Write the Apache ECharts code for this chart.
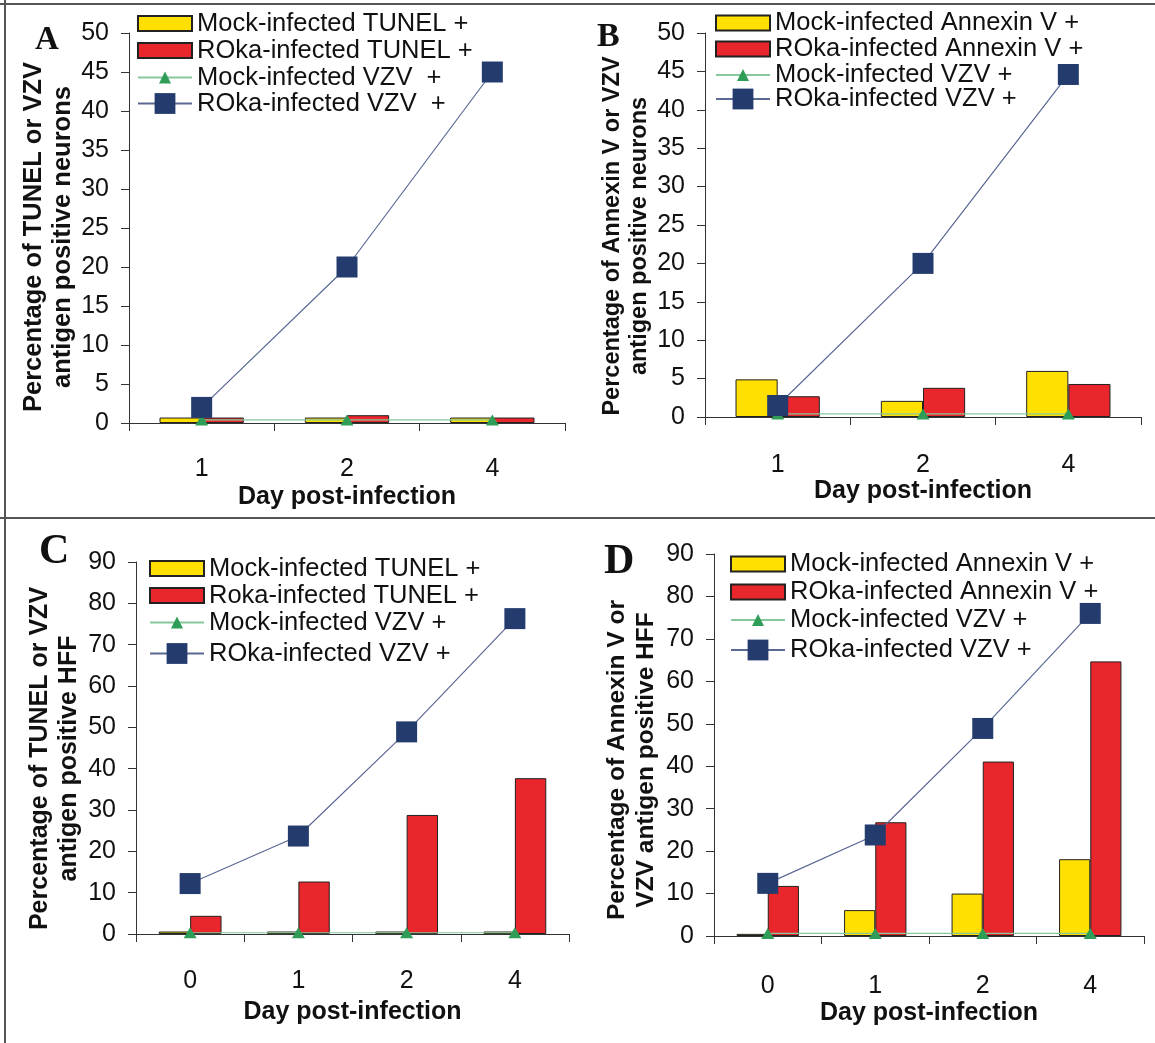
<!DOCTYPE html>
<html>
<head>
<meta charset="utf-8">
<script src="https://cdn.jsdelivr.net/npm/echarts@6/dist/echarts.min.js"></script>
<style>
  html, body { margin: 0; padding: 0; background: #fff; }
  #chart { width: 1155px; height: 1043px; }
</style>
</head>
<body>
<div id="chart"></div>
<script>
// categories
var daysTop = ['1', '2', '4'];
var daysBottom = ['0', '1', '2', '4'];

// panel A - neurons, TUNEL
var mockTunelA = [0.7, 0.7, 0.7];
var rokaTunelA = [0.7, 1.0, 0.7];
var mockVzvA = [0.4, 0.4, 0.4];
var rokaVzvA = [2, 20, 45];

// panel B - neurons, Annexin V
var mockAnnexinB = [4.9, 2.1, 6.0];
var rokaAnnexinB = [2.7, 3.8, 4.3];
var mockVzvB = [0.4, 0.4, 0.4];
var rokaVzvB = [1.5, 20, 44.6];

// panel C - HFF, TUNEL
var mockTunelC = [0.6, 0.6, 0.6, 0.6];
var rokaTunelC = [4.4, 12.7, 28.8, 37.7];
var mockVzvC = [0.3, 0.3, 0.3, 0.3];
var rokaVzvC = [12.2, 23.7, 48.9, 76.3];

// panel D - HFF, Annexin V
var mockAnnexinD = [0.5, 6.1, 10.0, 18.1];
var rokaAnnexinD = [11.8, 26.8, 41.1, 64.7];
var mockVzvD = [0.6, 0.6, 0.6, 0.6];
var rokaVzvD = [12.4, 23.8, 48.9, 76.0];

var FONT = 'Liberation Sans';
var YELLOW = '#ffe000', RED = '#e8262b', NAVY = '#243b6e', GREEN = '#2f9d57';

// 4 panels: grid box, axis max, names
var panels = [
  { grid: [129, 33, 436, 390], days: daysTop, max: 50, step: 5,
    yName: 'Percentage of TUNEL or VZV\nantigen positive neurons', yFont: 25.5, yLine: 29, yGap: 48, yShift: 18,
    xGap: 62, labelGap: 34,
    names: ['Mock-infected TUNEL +', 'ROka-infected TUNEL +', 'Mock-infected VZV  +', 'ROka-infected VZV  +'],
    data: [mockTunelA, rokaTunelA, mockVzvA, rokaVzvA],
    legend: [137, 10, 90, 27] },
  { grid: [705, 33, 436, 384], days: daysTop, max: 50, step: 5,
    yName: 'Percentage of Annexin V or VZV\nantigen positive neurons', yFont: 23.5, yLine: 27, yGap: 49, yShift: 22,
    xGap: 59, labelGap: 36,
    names: ['Mock-infected Annexin V +', 'ROka-infected Annexin V +', 'Mock-infected VZV +', 'ROka-infected VZV +'],
    data: [mockAnnexinB, rokaAnnexinB, mockVzvB, rokaVzvB],
    legend: [715, 10, 86, 24.5] },
  { grid: [136, 562, 433, 372], days: daysBottom, max: 90, step: 10,
    yName: 'Percentage of TUNEL or VZV\nantigen positive HFF', yFont: 25, yLine: 29, yGap: 52, yShift: 21,
    xGap: 66, labelGap: 35,
    names: ['Mock-infected TUNEL +', 'Roka-infected TUNEL +', 'Mock-infected VZV +', 'ROka-infected VZV +'],
    data: [mockTunelC, rokaTunelC, mockVzvC, rokaVzvC],
    legend: [149, 555, 640, 27] },
  { grid: [714, 554, 430, 382], days: daysBottom, max: 90, step: 10,
    yName: 'Percentage of Annexin V or\nVZV antigen positive HFF', yFont: 24.5, yLine: 29, yGap: 53, yShift: 30,
    xGap: 65, labelGap: 38,
    names: ['Mock-infected Annexin V +', 'ROka-infected Annexin V +', 'Mock-infected VZV +', 'ROka-infected VZV +'],
    data: [mockAnnexinD, rokaAnnexinD, mockVzvD, rokaVzvD],
    legend: [730, 550, 636, 28] }
];

var grids = [], xAxes = [], yAxes = [], series = [], legends = [];

panels.forEach(function(p, i) {
  grids.push({ left: p.grid[0], top: p.grid[1], width: p.grid[2], height: p.grid[3], containLabel: false });

  xAxes.push({
    type: 'category', gridIndex: i, data: p.days, boundaryGap: true,
    axisLine: { lineStyle: { color: '#333', width: 1 } },
    axisTick: { show: true, length: 8, lineStyle: { color: '#333' } },
    axisLabel: { margin: p.labelGap, fontSize: 25, color: '#111', fontFamily: FONT },
    name: 'Day post-infection', nameLocation: 'middle', nameGap: p.xGap,
    nameTextStyle: { fontSize: 25, fontWeight: 'bold', color: '#111', fontFamily: FONT }
  });

  yAxes.push({
    type: 'value', gridIndex: i, min: 0, max: p.max, interval: p.step,
    splitLine: { show: false },
    axisLine: { show: true, lineStyle: { color: '#333', width: 1 } },
    axisTick: { show: true, length: 8, lineStyle: { color: '#333' } },
    axisLabel: { margin: 20, fontSize: 25, color: '#111', fontFamily: FONT },
    name: p.yName, nameLocation: 'middle', nameGap: p.yGap,
    nameTextStyle: { fontSize: p.yFont, fontWeight: 'bold', lineHeight: p.yLine, color: '#111', fontFamily: FONT,
      padding: [0, p.yShift, 0, 0] }
  });

  // bars
  [YELLOW, RED].forEach(function(color, k) {
    series.push({
      name: p.names[k], type: 'bar', xAxisIndex: i, yAxisIndex: i, data: p.data[k],
      barWidth: '29%', barGap: '0%',
      itemStyle: { color: color, borderColor: '#222', borderWidth: 1 }
    });
  });
  // lines
  series.push({
    name: p.names[2], type: 'line', xAxisIndex: i, yAxisIndex: i, data: p.data[2],
    symbol: 'triangle', symbolSize: [13, 11], showSymbol: true,
    lineStyle: { color: '#86c79c', width: 1.2 }, itemStyle: { color: GREEN }
  });
  series.push({
    name: p.names[3], type: 'line', xAxisIndex: i, yAxisIndex: i, data: p.data[3],
    symbol: 'rect', symbolSize: 21, showSymbol: true,
    lineStyle: { color: '#5b6894', width: 1.2 }, itemStyle: { color: NAVY }
  });

  var legendText = { fontSize: 25.5, lineHeight: p.legend[3], color: '#111', fontFamily: FONT };
  legends.push({
    orient: 'vertical', left: p.legend[0], top: p.legend[1], padding: 0,
    itemWidth: 54, itemHeight: 15, itemGap: 0, selectedMode: false,
    data: [{ name: p.names[0], icon: 'rect' }, { name: p.names[1], icon: 'rect' }, p.names[2]],
    textStyle: legendText
  });
  legends.push({
    orient: 'vertical', left: p.legend[0], top: p.legend[2], padding: 0,
    itemWidth: 54, itemHeight: 26, itemGap: 0, selectedMode: false,
    data: [p.names[3]],
    textStyle: legendText
  });
});

// panel letters and frame lines
var letters = [['A', 35, 40, 33], ['B', 597, 37, 34], ['C', 39, 552, 42], ['D', 604, 562, 42]];
var graphics = letters.map(function(l) {
  return { type: 'text', left: l[1], top: l[2] - l[3] / 2,
    style: { text: l[0], font: 'bold ' + l[3] + 'px "Liberation Serif"', fill: '#111' } };
});
graphics.push({ type: 'line', shape: { x1: 0, y1: 4, x2: 1155, y2: 4 }, style: { stroke: '#555', lineWidth: 2 } });
graphics.push({ type: 'line', shape: { x1: 5, y1: 0, x2: 5, y2: 1043 }, style: { stroke: '#555', lineWidth: 2 } });
graphics.push({ type: 'line', shape: { x1: 0, y1: 518, x2: 1155, y2: 518 }, style: { stroke: '#555', lineWidth: 2 } });

var myChart = echarts.init(document.getElementById('chart'));
myChart.setOption({
  animation: false,
  backgroundColor: '#fff',
  grid: grids,
  xAxis: xAxes,
  yAxis: yAxes,
  legend: legends,
  series: series,
  graphic: graphics
});
</script>
</body>
</html>
